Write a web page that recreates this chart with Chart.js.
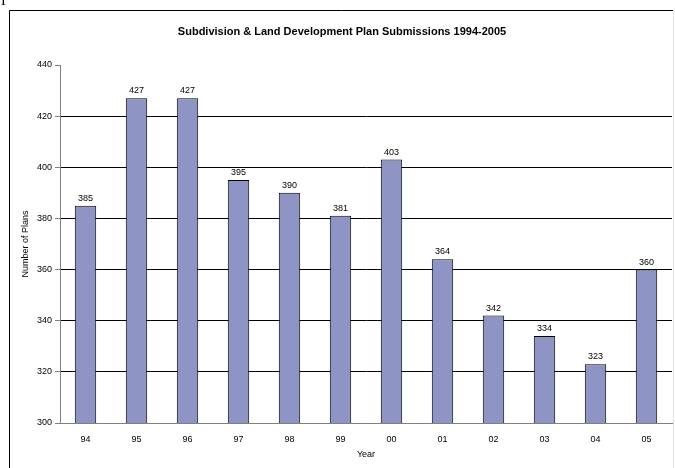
<!DOCTYPE html>
<html>
<head>
<meta charset="utf-8">
<script src="https://cdn.jsdelivr.net/npm/chart.js@4"></script>
<style>
  html, body { margin: 0; padding: 0; background: #fff; }
  #wrap { position: relative; width: 675px; height: 468px; }
</style>
</head>
<body>
<div id="wrap"><canvas id="plans" width="675" height="468"></canvas></div>
<script>
const years = ['94', '95', '96', '97', '98', '99', '00', '01', '02', '03', '04', '05'];
const submissions = [385, 427, 427, 395, 390, 381, 403, 364, 342, 334, 323, 360];
const yTicks = [300, 320, 340, 360, 380, 400, 420, 440];
const chartTitle = 'Subdivision & Land Development Plan Submissions 1994-2005';
const yTitle = 'Number of Plans';
const xTitle = 'Year';

const FONT = '"Liberation Sans", Arial, sans-serif';

// frame, title, axis titles and value labels
const decorations = {
    id: 'decorations',
    beforeDraw(chart) {
        const c = chart.ctx;
        c.save();
        c.fillStyle = '#fff';
        c.fillRect(0, 0, chart.width, chart.height);
        c.strokeStyle = '#000';
        c.lineWidth = 1;
        c.beginPath();
        c.moveTo(9.5, 470);
        c.lineTo(9.5, 10.5);
        c.lineTo(673, 10.5);
        c.stroke();
        c.strokeStyle = '#e4e4e4';
        c.beginPath();
        c.moveTo(673.5, 10.5);
        c.lineTo(673.5, 470);
        c.stroke();
        // stray glyph of the surrounding page
        c.fillStyle = '#000';
        c.font = '14px "Liberation Serif", serif';
        c.textAlign = 'left';
        c.textBaseline = 'alphabetic';
        c.fillText('I', 1, 5);
        c.restore();
    },
    afterDraw(chart) {
        const c = chart.ctx;
        const area = chart.chartArea;
        c.save();
        c.fillStyle = '#000';
        c.textAlign = 'center';
        c.textBaseline = 'middle';
        c.font = 'bold 11px ' + FONT;
        c.fillText(chartTitle, 342, 32);
        c.font = '9px ' + FONT;
        c.fillText(xTitle, (area.left + area.right) / 2, 455);
        c.translate(26, (area.top + area.bottom) / 2);
        c.rotate(-Math.PI / 2);
        c.fillText(yTitle, 0, 0);
        c.restore();
    },
    afterDatasetsDraw(chart) {
        const c = chart.ctx;
        const meta = chart.getDatasetMeta(0);
        c.save();
        c.fillStyle = '#000';
        c.font = '9px ' + FONT;
        c.textAlign = 'center';
        c.textBaseline = 'alphabetic';
        meta.data.forEach((bar, i) => {
            c.fillText(String(submissions[i]), bar.x, bar.y - 5);
        });
        c.restore();
    }
};

new Chart(document.getElementById('plans'), {
    type: 'bar',
    data: {
        labels: years,
        datasets: [{
            data: submissions,
            backgroundColor: '#8e94c3',
            borderColor: '#000',
            borderWidth: 1,
            borderSkipped: 'bottom',
            categoryPercentage: 1.0,
            barPercentage: 0.42
        }]
    },
    options: {
        responsive: false,
        animation: false,
        devicePixelRatio: 1,
        layout: { padding: { top: 65, right: 3, left: 0, bottom: 0 } },
        plugins: {
            legend: { display: false },
            title: { display: false },
            tooltip: { enabled: false }
        },
        scales: {
            x: {
                afterFit(scale) { scale.height = 45; },
                grid: { display: false, drawTicks: false },
                border: { color: '#808080', width: 1 },
                ticks: { color: '#000', font: { family: FONT, size: 9 }, padding: 11 }
            },
            y: {
                min: 300,
                max: 440,
                afterFit(scale) { scale.width = 60; },
                afterBuildTicks(scale) { scale.ticks = yTicks.map(v => ({ value: v })); },
                grid: {
                    color: ctx => ctx.tick && ctx.tick.value === 440 ? 'rgba(0,0,0,0)'
                        : (ctx.tick && ctx.tick.value === 300 ? '#808080' : '#000'),
                    tickColor: '#808080',
                    tickLength: 5,
                    lineWidth: 1
                },
                border: { color: '#808080', width: 1 },
                ticks: { color: '#000', font: { family: FONT, size: 9 }, padding: 3 }
            }
        }
    },
    plugins: [decorations]
});
</script>
</body>
</html>
